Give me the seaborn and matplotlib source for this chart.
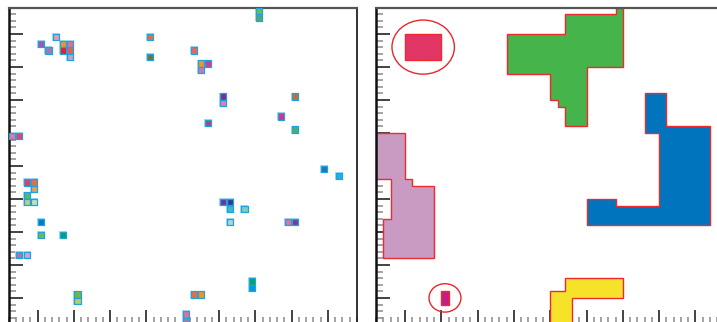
import matplotlib
matplotlib.use("Agg")
import matplotlib.pyplot as plt
from matplotlib.ticker import MultipleLocator
from matplotlib.patches import Ellipse
import seaborn as sns
import pandas as pd

# ---------------- data ----------------
# Left panel: occupied grid cells (0-based column, 0-based row from top) and their colours
sq_cols = [34, 34, 6, 4, 5, 7, 8, 7, 8, 8, 19, 19, 25, 26, 27, 26, 29, 29, 39, 37,
           27, 39, 0, 1, 43, 45, 2, 3, 3, 2, 2, 3, 4, 4, 7, 1, 2, 9, 9, 25,
           26, 24, 24, 29, 30, 30, 32, 30, 38, 39, 33, 33]
sq_rows = [0, 1, 4, 5, 6, 5, 5, 6, 6, 7, 4, 7, 6, 8, 8, 9, 13, 14, 13, 16,
           17, 18, 19, 19, 24, 25, 26, 26, 27, 28, 29, 29, 32, 34, 34, 37, 37, 43, 44, 43,
           43, 46, 47, 29, 29, 30, 30, 32, 32, 32, 41, 42]
sq_colors = ["#6abf4b", "#4cae6e", "#f29a9a", "#a556a8", "#9c7bb5", "#f7941d", "#ee6a8f",
             "#ed1c24", "#ef5a4a", "#c9a0cc", "#e86f3a", "#7a7035", "#ef6461", "#f7941d",
             "#d6399a", "#c27bbb", "#7c2d91", "#e07fb0", "#c0703a", "#d9308f", "#b6417c",
             "#4caf70", "#e478ab", "#ee3e6a", "#1f78b4", "#1cb4e8", "#e23c6c", "#f26a3a",
             "#f0a040", "#55b880", "#b8d080", "#c8e0b0", "#0078c0", "#70b850", "#00a65a",
             "#a87aa8", "#d8a0c8", "#70b840", "#b8d060", "#f26a3a", "#f7941d", "#e66a9a",
             "#a87aa8", "#7a2f92", "#2e3a96", "#3cbcc0", "#80ccc0", "#a8d8d8", "#e070a8",
             "#7a3a9a", "#00a65a", "#0098d8"]

# Right panel: region outlines (grid corner coordinates, column, row from top)
green_region = [(18, 4), (26, 4), (26, 1), (33, 1), (33, 0), (34, 0), (34, 9), (29, 9),
                (29, 18), (26, 18), (26, 15), (25, 15), (25, 14), (24, 14), (24, 10), (18, 10)]
blue_region = [(37, 13), (40, 13), (40, 18), (46, 18), (46, 33), (29, 33), (29, 29),
               (33, 29), (33, 30), (39, 30), (39, 19), (37, 19)]
lilac_region = [(0, 19), (4, 19), (4, 26), (5, 26), (5, 27), (8, 27), (8, 38), (1, 38),
                (1, 32), (2, 32), (2, 26), (0, 26)]
yellow_region = [(26, 41), (34, 41), (34, 44), (27, 44), (27, 48), (24, 48), (24, 43), (26, 43)]
crimson_region = [(4, 4), (9, 4), (9, 8), (4, 8)]
magenta_region = [(9, 43), (10, 43), (10, 45), (9, 45)]
region_colors = ["#45b44a", "#0075be", "#c99bc3", "#f7e22a", "#e23766", "#c21f83"]

# highlight ellipses: centre (col, row), width, height in grid units
ellipse_centers = [(6.5, 6.0), (9.5, 44.0)]
ellipse_sizes = [(8.6, 8.2), (4.4, 4.3)]

# ---------------- figure ----------------
sns.set_theme(style="white")
W, H = 717, 322
fig = plt.figure(figsize=(W / 100, H / 100), dpi=100)

cell_w = 7.26
cell_h = 6.6
ax_w = 48 * cell_w
ax_h = 48 * cell_h
top_px = 7.5


def make_axes(left_px):
    return fig.add_axes([left_px / W, (H - top_px - ax_h) / H, ax_w / W, ax_h / H])


def style_axes(ax):
    ax.set_xlim(1, 49)
    ax.set_ylim(49, 1)
    ax.xaxis.set_major_locator(MultipleLocator(5))
    ax.xaxis.set_minor_locator(MultipleLocator(1))
    ax.yaxis.set_major_locator(MultipleLocator(5))
    ax.yaxis.set_minor_locator(MultipleLocator(1))
    ax.tick_params(which="major", direction="in", length=10, width=1.2, color="#222222",
                   left=True, bottom=True, top=False, right=False,
                   labelleft=False, labelbottom=False)
    ax.tick_params(which="minor", direction="in", length=5, width=1.1, color="#8a8a8a",
                   left=True, bottom=True, top=False, right=False)
    ax.set_xlabel("")
    ax.set_ylabel("")
    for name, sp in ax.spines.items():
        sp.set_visible(True)
    ax.spines["top"].set_color("#555555")
    ax.spines["top"].set_linewidth(1.6)
    ax.spines["left"].set_color("#111111")
    ax.spines["left"].set_linewidth(1.8)
    ax.spines["right"].set_color("#222222")
    ax.spines["right"].set_linewidth(1.3)
    ax.spines["bottom"].set_color("#222222")
    ax.spines["bottom"].set_linewidth(1.3)
    ax.set_facecolor("white")


# ---- left panel ----
ax1 = make_axes(8.5)
df = pd.DataFrame({
    "x": [c + 1.5 for c in sq_cols],
    "y": [r + 1.5 for r in sq_rows],
    "color": sq_colors,
})
palette = {c: c for c in sq_colors}
# soft halo
sns.scatterplot(data=df, x="x", y="y", ax=ax1, marker="s", s=40, color="#a9dcf3",
                linewidth=0, legend=False, zorder=2)
sns.scatterplot(data=df, x="x", y="y", hue="color", palette=palette, ax=ax1, marker="s",
                s=20, edgecolor="#1ea3de", linewidth=0.9, legend=False, zorder=3)
style_axes(ax1)

# ---- right panel ----
ax2 = make_axes(376)
regions = [green_region, blue_region, lilac_region, yellow_region, crimson_region, magenta_region]
for verts, col in zip(regions, region_colors):
    xs = [v[0] + 1 for v in verts]
    ys = [v[1] + 1 for v in verts]
    ax2.fill(xs, ys, facecolor=col, edgecolor="#ee2a2e", linewidth=1.0, zorder=2)
for (cx, cy), (ew, eh) in zip(ellipse_centers, ellipse_sizes):
    ax2.add_patch(Ellipse((cx + 1, cy + 1), ew, eh, facecolor="none",
                          edgecolor="#e8262a", linewidth=1.0, zorder=3))
style_axes(ax2)

fig.savefig("out.png", dpi=100)
